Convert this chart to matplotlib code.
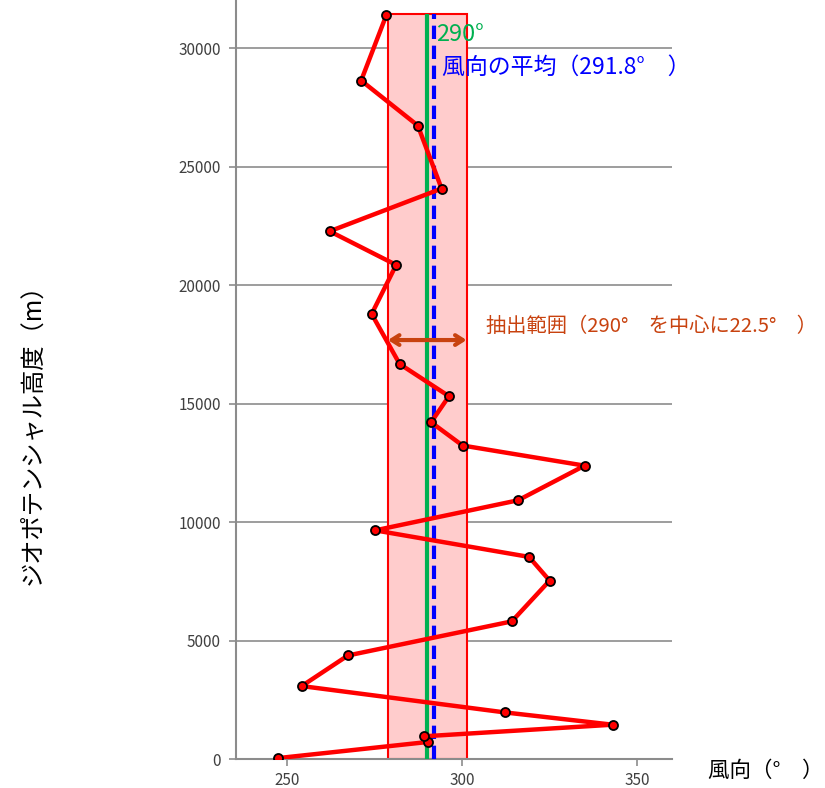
import matplotlib
matplotlib.use("Agg")
import matplotlib.pyplot as plt
from matplotlib.patches import Rectangle

plt.rcParams['font.family'] = ['Noto Sans CJK JP', 'DejaVu Sans']

# Observed wind direction (deg) against geopotential height (m)
heights = [50, 730, 970, 1460, 1980, 3090, 4380, 5820, 7540, 8540, 9660,
           10930, 12390, 13240, 14220, 15320, 16680, 18790, 20860, 22280,
           24080, 26740, 28640, 31400]
directions = [247.3, 290.1, 289.1, 343.0, 312.1, 254.1, 267.3, 314.2, 325.0,
              319.1, 275.1, 316.0, 335.0, 300.1, 291.1, 296.2, 282.1, 274.1,
              281.1, 262.1, 294.1, 287.3, 271.1, 278.3]

center_dir = 290.0      # centre of the extraction window
half_width = 11.25      # 22.5 deg window -> +/- 11.25
mean_dir = 291.8        # mean wind direction
band_top = 31450

x_ticks = [250, 300, 350]
y_ticks = [0, 5000, 10000, 15000, 20000, 25000, 30000]

fig = plt.figure(figsize=(8.25, 7.88), dpi=100)
ax = fig.add_axes([236 / 825, 28.7 / 788, 436 / 825, 759.3 / 788])
ax.set_xlim(235.3, 360)
ax.set_ylim(0, 32038)

# grid
ax.set_yticks(y_ticks)
ax.set_xticks(x_ticks)
ax.yaxis.grid(True, color='#8c8c8c', lw=1.2, zorder=0)
ax.set_axisbelow(True)
for s in ['top', 'right']:
    ax.spines[s].set_visible(False)
for s in ['left', 'bottom']:
    ax.spines[s].set_color('#8c8c8c')
    ax.spines[s].set_linewidth(1.5)
ax.tick_params(axis='both', colors='#8c8c8c', length=5, width=1.2,
               labelsize=11, labelcolor='#404040')
ax.tick_params(axis='y', pad=6)
ax.tick_params(axis='x', pad=4)

# extraction band
ax.add_patch(Rectangle((center_dir - half_width, 0), 2 * half_width, band_top,
                       facecolor='#ffcccc', edgecolor='#ff0000', lw=1.5,
                       zorder=2))

# centre and mean lines
ax.plot([center_dir, center_dir], [0, band_top], color='#00b050', lw=3,
        zorder=3, solid_capstyle='butt')
ax.plot([mean_dir, mean_dir], [0, band_top], color='#0000ff', lw=3,
        dashes=(3.2, 1.6), zorder=4)

# profile
ax.plot(directions, heights, color='#ff0000', lw=3.2, zorder=5,
        marker='o', markersize=6.5, markerfacecolor='#ff0000',
        markeredgecolor='#000000', markeredgewidth=1.3)

# double arrow showing the window
ax.annotate('', xy=(center_dir - half_width, 17690),
            xytext=(center_dir + half_width, 17690),
            arrowprops=dict(arrowstyle='<->,head_length=0.55,head_width=0.35',
                            color='#c8420f', lw=3, shrinkA=0, shrinkB=0),
            zorder=6)

ax.text(292.5, 30600, f'{center_dir:.0f}°', color='#00b050', fontsize=17,
        va='center', ha='left', zorder=7)
ax.text(294.2, 29211, f'風向の平均（{mean_dir}°　）', color='#0000ff',
        fontsize=16.5, va='center', ha='left', zorder=7)
ax.text(306.8, 18281, f'抽出範囲（{center_dir:.0f}°　を中心に{2 * half_width}°　）',
        color='#c8420f', fontsize=14.6, va='center', ha='left', zorder=7,
        clip_on=False)

fig.text(32 / 825, 1 - 428 / 788, 'ジオポテンシャル高度（m）', rotation=90,
         fontsize=17.5, va='center', ha='center', color='#000000')
fig.text(766 / 825, 1 - 771 / 788, '風向（°　）', fontsize=15.5,
         va='center', ha='center', color='#000000')

fig.savefig('out.png', dpi=100)
